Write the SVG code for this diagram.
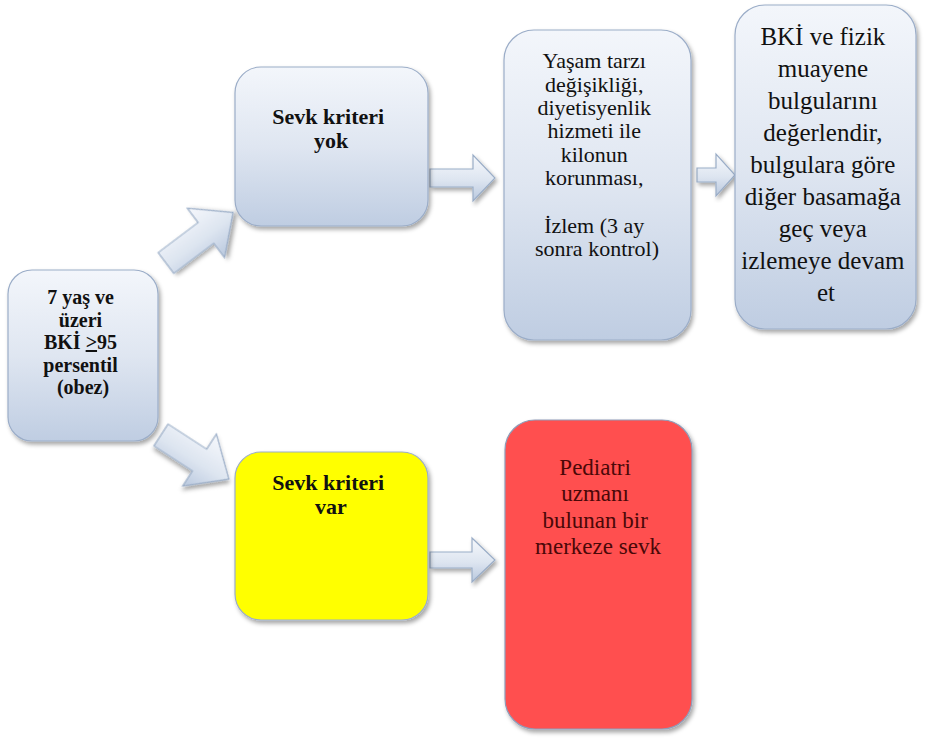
<svg xmlns="http://www.w3.org/2000/svg" width="928" height="738" viewBox="0 0 928 738">
  <defs>
    <linearGradient id="gBox" x1="0" y1="0" x2="0" y2="1">
      <stop offset="0" stop-color="#f3f6fb"/>
      <stop offset="0.5" stop-color="#dfe6f1"/>
      <stop offset="1" stop-color="#bfcde2"/>
    </linearGradient>
    <linearGradient id="gArrow" x1="0" y1="0" x2="0" y2="1">
      <stop offset="0" stop-color="#f6f8fc"/>
      <stop offset="0.55" stop-color="#dde5f0"/>
      <stop offset="1" stop-color="#b9c8de"/>
    </linearGradient>
    <filter id="sh" x="-10%" y="-10%" width="125%" height="125%">
      <feDropShadow dx="2" dy="3" stdDeviation="2" flood-color="#000" flood-opacity="0.35"/>
    </filter>
  </defs>
  <style>
    .box { fill: url(#gBox); stroke: #9badc8; stroke-width: 1.2; filter: url(#sh); }
    .yel { fill: #ffff00; stroke: #9badc8; stroke-width: 1.2; filter: url(#sh); }
    .red { fill: #ff5050; stroke: #8f9cb8; stroke-width: 1.2; filter: url(#sh); }
    .arr { fill: url(#gArrow); stroke: #9aadc7; stroke-width: 1.2; filter: url(#sh); }
    .t { text-anchor: middle; fill: #111; }
    .b { font-weight: bold; }
    .tr { fill: #4a0808; }
  </style>
  <rect width="928" height="738" fill="#ffffff"/>

  <g id="connectors">
    <path class="arr" transform="translate(166,263) rotate(-37)" d="M0,-13 H50 V-31 L84,0 L50,31 V13 H0 Z"/>
    <path class="arr" transform="translate(161,435) rotate(33)" d="M0,-13 H46 V-31 L81,0 L46,31 V13 H0 Z"/>
    <path class="arr" d="M430,169 H473 V155 L495,178 L473,201 V187 H430 Z"/>
    <path class="arr" d="M697,168 H716 V154 L735,175 L716,196 V182 H697 Z"/>
    <path class="arr" d="M430,552 H472 V538 L495,560 L472,582 V568 H430 Z"/>
  </g>

  <g id="n-start">
    <rect class="box" x="8" y="270" width="150" height="171" rx="24"/>
    <text class="t b" font-family="Liberation Serif, Times New Roman, serif" font-size="20">
      <tspan x="83" y="304">7 yaş ve</tspan>
      <tspan x="83" y="326.5">üzeri</tspan>
      <tspan x="83" y="349">BKİ <tspan text-decoration="underline">&gt;</tspan>95</tspan>
      <tspan x="83" y="371.5">persentil</tspan>
      <tspan x="83" y="394">(obez)</tspan>
    </text>
  </g>

  <g id="n-yok">
    <rect class="box" x="235" y="67" width="193" height="159" rx="26"/>
    <text class="t b" font-family="Liberation Serif, Times New Roman, serif" font-size="22">
      <tspan x="331" y="124">Sevk kriteri</tspan>
      <tspan x="331" y="148">yok</tspan>
    </text>
  </g>

  <g id="n-yasam">
    <rect class="box" x="504" y="30" width="187" height="310" rx="30"/>
    <text class="t" font-family="Liberation Serif, Times New Roman, serif" font-size="22">
      <tspan x="597" y="68">Yaşam tarzı</tspan>
      <tspan x="597" y="92">değişikliği,</tspan>
      <tspan x="597" y="115">diyetisyenlik</tspan>
      <tspan x="597" y="138">hizmeti ile</tspan>
      <tspan x="597" y="162">kilonun</tspan>
      <tspan x="597" y="185">korunması,</tspan>
      <tspan x="597" y="233">İzlem (3 ay</tspan>
      <tspan x="597" y="256">sonra kontrol)</tspan>
    </text>
  </g>

  <g id="n-bki">
    <rect class="box" x="735" y="5" width="181" height="324" rx="30"/>
    <text class="t" font-family="Liberation Serif, Times New Roman, serif" font-size="25">
      <tspan x="826" y="45">BKİ ve fizik</tspan>
      <tspan x="826" y="77">muayene</tspan>
      <tspan x="826" y="109">bulgularını</tspan>
      <tspan x="826" y="141">değerlendir,</tspan>
      <tspan x="826" y="173">bulgulara göre</tspan>
      <tspan x="826" y="205">diğer basamağa</tspan>
      <tspan x="826" y="237">geç veya</tspan>
      <tspan x="826" y="269">izlemeye devam</tspan>
      <tspan x="826" y="301">et</tspan>
    </text>
  </g>

  <g id="n-var">
    <rect class="yel" x="235" y="452" width="193" height="168" rx="26"/>
    <text class="t b" font-family="Liberation Serif, Times New Roman, serif" font-size="22">
      <tspan x="331" y="490">Sevk kriteri</tspan>
      <tspan x="331" y="514">var</tspan>
    </text>
  </g>

  <g id="n-sevk">
    <rect class="red" x="505" y="420" width="187" height="309" rx="30"/>
    <text class="t tr" font-family="Liberation Serif, Times New Roman, serif" font-size="23">
      <tspan x="598" y="475">Pediatri</tspan>
      <tspan x="598" y="501">uzmanı</tspan>
      <tspan x="598" y="528">bulunan bir</tspan>
      <tspan x="598" y="554">merkeze sevk</tspan>
    </text>
  </g>
</svg>
